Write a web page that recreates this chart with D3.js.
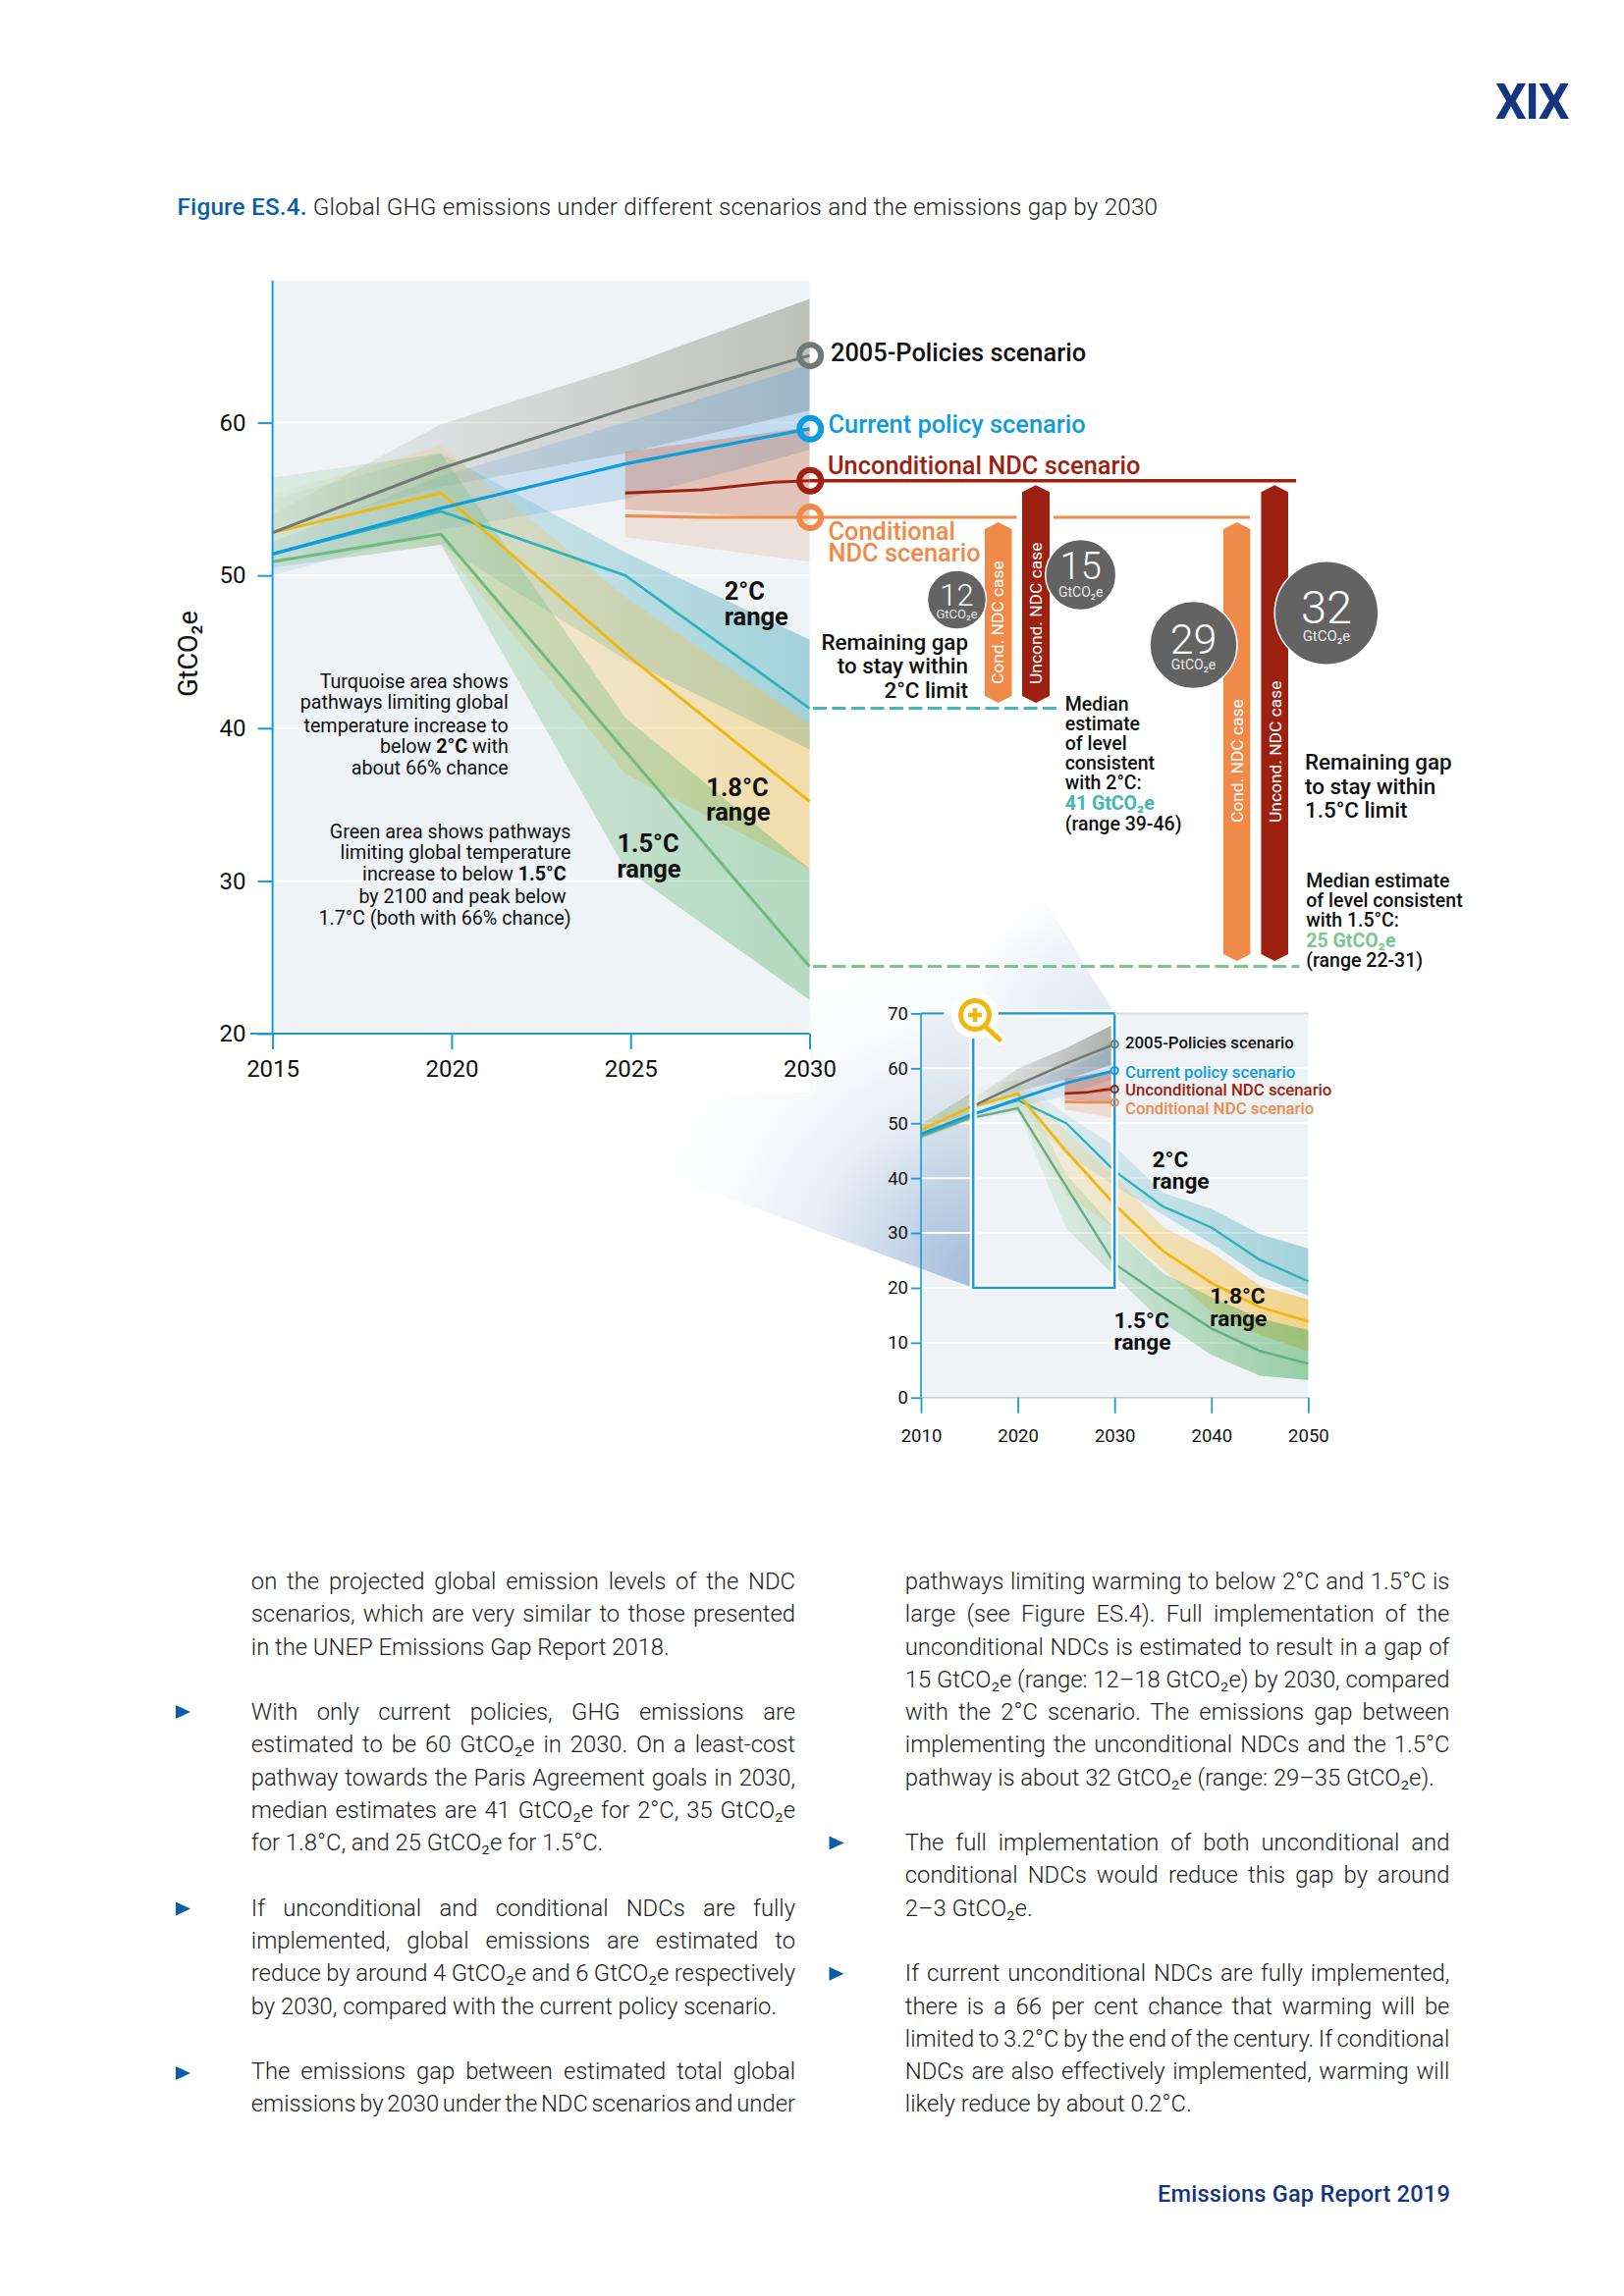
<!DOCTYPE html>
<html><head><meta charset="utf-8">
<script src="https://cdn.jsdelivr.net/npm/d3@7"></script>
<style>
html,body{margin:0;padding:0;background:#fff}
svg{display:block;position:absolute;left:0;top:0}
text{font-family:Roboto,"Noto Sans",sans-serif;fill:#111}
</style></head><body>
<svg id="c" width="1654" height="2339" xmlns="http://www.w3.org/2000/svg"></svg>
<script>
// ---------- data ----------
const yTicksMain=[20,30,40,50,60];
const xTicksMain=[2015,2020,2025,2030];
const yTicksInset=[0,10,20,30,40,50,60,70];
const xTicksInset=[2010,2020,2030,2040,2050];
const yearsMain=[2015,2019.7,2024.85,2030];
const yearsInset=[2015,2020,2025,2030];
const yearsLong=[2035,2040,2045,2050];
const yearsNdc=[2024.85,2030];
const yearsUncondLine=[2024.85,2027,2029,2030];
const yearsCondLine=[2024.85,2027,2030];
// medians
const line2005=[52.8,57.0,60.9,64.4];
const lineCurrent=[51.4,54.4,57.3,59.6];
const line2C=[51.4,54.2,50.0,41.3];
const line18C=[52.8,55.4,44.9,35.2];
const line15C=[50.9,52.7,38.5,24.4];
const lineUncond=[55.4,55.6,56.1,56.2];
const lineCond=[53.9,53.8,53.8];
// ranges
const up2005=[54.0,59.9,63.7,68.1], lo2005=[52.8,55.8,58.0,60.8];
const upCurrent=[52.2,56.5,60.0,63.8], loCurrent=[50.0,53.0,55.0,58.2];
const up2C=[55.0,58.0,51.5,45.8], lo2C=[50.5,52.0,44.5,38.6];
const up18C=[55.3,58.5,48.6,40.3], lo18C=[50.6,52.0,37.0,30.8];
const up15C=[56.4,58.0,40.7,30.8], lo15C=[50.5,52.0,30.8,22.2];
const upUncond=[58.1,59.7], loUncond=[54.3,53.7];
const upCond=[54.2,53.8], loCond=[52.5,50.9];
// inset extension 2035-2050
const long2C=[34.8,31.0,25.1,21.2], longUp2C=[37.3,34.4,29.8,27.2], longLo2C=[33.3,28.1,22.1,18.6];
const long18C=[26.7,20.9,16.5,13.9], longUp18C=[31.1,26.6,20.4,17.9], longLo18C=[23.4,15.6,11.4,8.4];
const long15C=[18.3,12.6,8.5,6.2], longUp15C=[22.7,18.3,14.4,12.3], longLo15C=[13.7,7.8,4.0,3.2];
// inset history 2010
const hist18C=48.8, histCurrent=48.0, hist15C=47.6, histUp=49.8, histLo=47.2;
// gap bars
const gap2C=[{k:"Cond. NDC case",top:53.8,col:"cond"},{k:"Uncond. NDC case",top:56.2,col:"unc"}];
const gap15C=[{k:"Cond. NDC case",top:53.8,col:"cond"},{k:"Uncond. NDC case",top:56.2,col:"unc"}];
const median2C=41.3, median15C=24.4;
const gapValues=["12","15","29","32"];
// text
const figTitleA="Figure ES.4.", figTitleB=" Global GHG emissions under different scenarios and the emissions gap by 2030";
const leftCol=[[0,"on the projected global emission levels of the NDC",1],[1,"scenarios, which are very similar to those presented",1],[2,"in the UNEP Emissions Gap Report 2018.",0],
[4,"With only current policies, GHG emissions are",1],[5,"estimated to be 60 GtCO₂e in 2030. On a least-cost",1],[6,"pathway towards the Paris Agreement goals in 2030,",1],[7,"median estimates are 41 GtCO₂e for 2°C, 35 GtCO₂e",1],[8,"for 1.8°C, and 25 GtCO₂e for 1.5°C.",0],
[10,"If unconditional and conditional NDCs are fully",1],[11,"implemented, global emissions are estimated to",1],[12,"reduce by around 4 GtCO₂e and 6 GtCO₂e respectively",1],[13,"by 2030, compared with the current policy scenario.",0],
[15,"The emissions gap between estimated total global",1],[16,"emissions by 2030 under the NDC scenarios and under",1]];
const rightCol=[[0,"pathways limiting warming to below 2°C and 1.5°C is",1],[1,"large (see Figure ES.4). Full implementation of the",1],[2,"unconditional NDCs is estimated to result in a gap of",1],[3,"15 GtCO₂e (range: 12–18 GtCO₂e) by 2030, compared",1],[4,"with the 2°C scenario. The emissions gap between",1],[5,"implementing the unconditional NDCs and the 1.5°C",1],[6,"pathway is about 32 GtCO₂e (range: 29–35 GtCO₂e).",0],
[8,"The full implementation of both unconditional and",1],[9,"conditional NDCs would reduce this gap by around",1],[10,"2–3 GtCO₂e.",0],
[12,"If current unconditional NDCs are fully implemented,",1],[13,"there is a 66 per cent chance that warming will be",1],[14,"limited to 3.2°C by the end of the century. If conditional",1],[15,"NDCs are also effectively implemented, warming will",1],[16,"likely reduce by about 0.2°C.",0]];

// ---------- palette ----------
const C={axis:"#1a9ad6",bg:"#eff3f6",grey:"#6f7a76",blue:"#0d9ddf",unc:"#9e2010",cond:"#ef8a49",teal:"#2fb3b8",yellow:"#efb810",green:"#6fbb7f",
 navy:"#14357f",fig:"#0a5ea8",disc:"#636363"};
const svg=d3.select("#c");
const defs=svg.append("defs");
function grad(id,color,x1,x2,a1,a2){
 const g=defs.append("linearGradient").attr("id",id).attr("gradientUnits","userSpaceOnUse").attr("x1",x1).attr("x2",x2).attr("y1",0).attr("y2",0);
 g.append("stop").attr("offset",0).attr("stop-color",color).attr("stop-opacity",a1);
 g.append("stop").attr("offset",1).attr("stop-color",color).attr("stop-opacity",a2);
}
// ---------- scales ----------
const xM=d3.scaleLinear().domain([2015,2030]).range([277.6,824.5]);
const yM=d3.scaleLinear().domain([20,60]).range([1053,430.6]);
const xI=d3.scaleLinear().domain([2010,2050]).range([938,1332.4]);
const yI=d3.scaleLinear().domain([0,70]).range([1423.8,1032.4]);

function band(g,xs,up,lo,x,y,fill){
 const a=d3.area().x((d,i)=>x(xs[i])).y0((d,i)=>y(lo[i])).y1((d,i)=>y(up[i]));
 g.append("path").attr("d",a(up)).attr("fill",fill);
}
function line(g,xs,v,x,y,col,w){
 const l=d3.line().x((d,i)=>x(xs[i])).y(d=>y(d));
 g.append("path").attr("d",l(v)).attr("fill","none").attr("stroke",col).attr("stroke-width",w).attr("stroke-linejoin","miter");
}
function txt(g,x,y,s,o={}){
 const t=g.append("text").attr("x",x).attr("y",y).attr("font-size",o.size||20).attr("font-weight",o.w||400).attr("text-anchor",o.a||"start").style("fill",o.c||"#111");
 if(o.ls!==undefined)t.attr("letter-spacing",o.ls);
 if(Array.isArray(s)){s.forEach(r=>{const ts=t.append("tspan").text(r.t);if(r.w)ts.attr("font-weight",r.w);if(r.c)ts.style("fill",r.c);});}
 else t.text(s);
 return t;
}
// ---------- page furniture ----------
txt(svg,1597,121,"XIX",{size:50,w:700,a:"end",c:C.navy,ls:-1.5});
txt(svg,180.5,219,[{t:figTitleA,w:500,c:C.fig},{t:figTitleB,w:300,c:"#222"}],{size:24.25,ls:0.2});
txt(svg,1477,2243,"Emissions Gap Report 2019",{size:23.6,w:500,a:"end",c:C.navy,ls:0.2});

function column(data,x0,x1){
 data.forEach(([n,s,j])=>{
  const t=txt(svg,x0,1619+33.27*n,s,{size:23.8,w:300,c:"#222"});
  if(j){const L=t.node().getComputedTextLength();const sp=s.split(" ").length-1;t.attr("word-spacing",(x1-x0-L)/sp);}
 });
}
column(leftCol,255.8,810);
column(rightCol,921.8,1476.4);
const bullets=[[179,1744],[179,1944.6],[179,2112],[844.5,1877.5],[844.5,2010.7]];
const tri=d3.line();
bullets.forEach(([x,y])=>svg.append("path").attr("d",tri([[x,y-7],[x+15,y],[x,y+7]])+"Z").attr("fill",C.fig));

// ---------- inset background + wedge ----------
const inset=svg.append("g");
inset.append("rect").attr("x",xI(2010)).attr("y",yI(70)).attr("width",xI(2050)-xI(2010)).attr("height",yI(0)-yI(70)).attr("fill",C.bg);
const rg=defs.append("radialGradient").attr("id","wedge").attr("gradientUnits","userSpaceOnUse").attr("cx",1000).attr("cy",1300).attr("r",360);
[[0,.8],[.25,.5],[.5,.2],[.75,.05],[1,0]].forEach(([o,a])=>rg.append("stop").attr("offset",o).attr("stop-color","#8fadd2").attr("stop-opacity",a));
const rg2=defs.append("radialGradient").attr("id","wedge2").attr("gradientUnits","userSpaceOnUse").attr("cx",1150).attr("cy",1050).attr("r",170);
[[0,.28],[.6,.14],[1,0]].forEach(([o,a])=>rg2.append("stop").attr("offset",o).attr("stop-color","#8fadd2").attr("stop-opacity",a));
const rectL=xI(2015.4),rectR=xI(2030),rectT=yI(70),rectB=yI(20);
const wedgePts=d3.line()([[rectL,rectB],[rectR,rectT],[700,330],[500,1132]])+"Z";
svg.append("path").attr("d",wedgePts).attr("fill","url(#wedge)");
svg.append("path").attr("d",wedgePts).attr("fill","url(#wedge2)");

// ---------- main chart ----------
const m=svg.append("g");
m.append("rect").attr("x",260).attr("y",1053).attr("width",565).attr("height",60).attr("fill","#fff");
m.append("rect").attr("x",xM(2015)).attr("y",285.8).attr("width",xM(2030)-xM(2015)).attr("height",1053-285.8).attr("fill",C.bg);
m.append("g").selectAll("line").data([30,40,50,60]).join("line").attr("x1",xM(2015)).attr("x2",xM(2030)).attr("y1",d=>yM(d)).attr("y2",d=>yM(d)).attr("stroke","#fff").attr("stroke-width",2);
const X0=xM(2015),X1=xM(2030);
grad("mGrey","#6e6e5c",X0,X1,.05,.38);
grad("mBlue","#5f9fdc",X0,X1,.14,.32);
grad("mTeal","#3aa5b5",X0,X1,.05,.42);
grad("mYel","#f5bf45",X0,X1,.07,.42);
grad("mGrn","#59b36c",X0,X1,.13,.4);
band(m,yearsMain,up2005,lo2005,xM,yM,"url(#mGrey)");
band(m,yearsMain,upCurrent,loCurrent,xM,yM,"url(#mBlue)");
band(m,yearsMain,up2C,lo2C,xM,yM,"url(#mTeal)");
band(m,yearsMain,up18C,lo18C,xM,yM,"url(#mYel)");
band(m,yearsMain,up15C,lo15C,xM,yM,"url(#mGrn)");
band(m,yearsNdc,upUncond,loUncond,xM,yM,"rgba(200,100,60,.33)");
band(m,yearsNdc,upCond,loCond,xM,yM,"rgba(225,150,110,.2)");
line(m,yearsMain,line15C,xM,yM,C.green,3);
line(m,yearsMain,line2C,xM,yM,C.teal,2.8);
line(m,yearsMain,line18C,xM,yM,C.yellow,3);
line(m,yearsMain,line2005,xM,yM,C.grey,3);
line(m,yearsMain,lineCurrent,xM,yM,C.blue,3.2);
line(m,yearsUncondLine,lineUncond,xM,yM,C.unc,3);
line(m,yearsCondLine,lineCond,xM,yM,C.cond,3);

// main axes
const ax=m.append("g").attr("transform",`translate(${xM(2015)},0)`).call(d3.axisLeft(yM).tickValues(yTicksMain).tickSize(15).tickPadding(12).tickFormat(d3.format("d")));
const ay=m.append("g").attr("transform","translate(0,1053)").call(d3.axisBottom(xM).tickValues(xTicksMain).tickSize(16).tickPadding(10.5).tickFormat(d3.format("d")));
[ax,ay].forEach(a=>{a.selectAll("path").attr("stroke",C.axis).attr("stroke-width",2);a.selectAll("line").attr("stroke",C.axis).attr("stroke-width",2);a.selectAll("text").style("font-family","Roboto").style("font-size","24px").style("fill","#111");});
ax.select("path").attr("d",`M0,285.8V1053`);
ay.select("path").attr("d",`M255,0H${xM(2030)}`);
txt(m,0,0,"GtCO₂e",{size:27,a:"middle"}).attr("transform","translate(201,666) rotate(-90)");

// main notes
[["Turquoise area shows",700.5],["pathways limiting global",722.4],["temperature increase to",745.5],[[{t:"below "},{t:"2°C",w:700},{t:" with"}],767.4],["about 66% chance",789.3]].forEach(([s,y])=>txt(m,517.8,y,s,{size:19.7,a:"end"}));
[["Green area shows pathways",853.5],["limiting global temperature",875.4],[[{t:"increase to below "},{t:"1.5°C",w:700},{t:"\u00a0"}],897.4],["by 2100 and peak below\u00a0",920.4],["1.7°C (both with 66% chance)",941.8]].forEach(([s,y])=>txt(m,581.5,y,s,{size:19.7,a:"end"}));
[[737.7,611,"2°C"],[737.7,637,"range"],[719.3,811,"1.8°C"],[719.3,836,"range"],[628.4,868,"1.5°C"],[628.4,893.5,"range"]].forEach(([x,y,s])=>txt(m,x,y,s,{size:25.5,w:700}));

// scenario connectors
m.append("line").attr("x1",X1).attr("x2",1320).attr("y1",yM(56.2)).attr("y2",yM(56.2)).attr("stroke",C.unc).attr("stroke-width",3.5);
[[X1,1035.5],[1073,1273]].forEach(([a,b])=>m.append("line").attr("x1",a).attr("x2",b).attr("y1",yM(53.8)).attr("y2",yM(53.8)).attr("stroke",C.cond).attr("stroke-width",3));
[[median2C,1078.7,"#3fb8b6"],[median15C,1323.4,"#7bc68e"]].forEach(([v,x2,c])=>m.append("line").attr("x1",828).attr("x2",x2).attr("y1",yM(v)).attr("y2",yM(v)).attr("stroke",c).attr("stroke-width",3).attr("stroke-dasharray","14 5.5"));
// markers
[[64.4,C.grey],[59.6,C.blue],[56.2,C.unc],[53.8,C.cond]].forEach(([v,c])=>m.append("circle").attr("cx",825.2).attr("cy",yM(v)).attr("r",11).attr("fill","none").attr("stroke",c).attr("stroke-width",6));
txt(m,846,368,"2005-Policies scenario",{size:25.4,w:500});
txt(m,843.5,440.5,"Current policy scenario",{size:25.4,w:500,c:C.blue});
txt(m,843,483,"Unconditional NDC scenario",{size:25.4,w:500,c:C.unc});
txt(m,843.5,550,"Conditional",{size:25.4,w:500,c:C.cond});
txt(m,843.5,572,"NDC scenario",{size:25.4,w:500,c:C.cond});

// gap bars
function bar(x0,x1,top,bottom,col,label,lx,ly){
 const c=7,mx=(x0+x1)/2;
 svg.append("path").attr("d",d3.line()([[mx,top],[x1,top+c],[x1,bottom-c],[mx,bottom],[x0,bottom-c],[x0,top+c]])+"Z").attr("fill",col);
 txt(svg,0,0,label,{size:17.4,c:"#fff"}).attr("transform",`translate(${lx},${ly}) rotate(-90)`);
}
const bb2=yM(median2C)-5.5, bb15=yM(median15C)-5.5;
bar(1003,1030.5,yM(gap2C[0].top)+5,bb2,C.cond,gap2C[0].k,1022,697);
bar(1041,1069,yM(gap2C[1].top)+4.5,bb2,C.unc,gap2C[1].k,1061,697);
bar(1246,1273.4,yM(gap15C[0].top)+5,bb15,C.cond,gap15C[0].k,1265.5,838);
bar(1284.4,1312,yM(gap15C[1].top)+4.5,bb15,C.unc,gap15C[1].k,1304.5,838);

// gap discs
[[974.5,611,30,31,617,13,630],[1100.7,585.6,36,38,590,14,608],[1215.5,657,44.5,43,666,14,681.6],[1351,624.5,52.8,47,634.7,15,652.6]].forEach((d,i)=>{
 svg.append("circle").attr("cx",d[0]).attr("cy",d[1]).attr("r",d[2]).attr("fill",C.disc).attr("stroke","#fff").attr("stroke-width",1.5);
 txt(svg,d[0],d[4],gapValues[i],{size:d[3],w:300,a:"middle",c:"#fff"});
 txt(svg,d[0],d[6],"GtCO₂e",{size:d[5],w:400,a:"middle",c:"#e8e8e8"});
});
// gap notes
[["Remaining gap",661.5],["to stay within",686],["2°C limit",710.6]].forEach(([s,y])=>txt(svg,986,y,s,{size:22.4,w:500,a:"end"}));
[["Remaining gap",784],["to stay within",809],["1.5°C limit",833.4]].forEach(([s,y])=>txt(svg,1329,y,s,{size:22.4,w:500}));
[["Median",724],["estimate",744],["of level",764],["consistent",784],["with 2°C:",804.4],[[{t:"41 GtCO₂e",w:700,c:"#3fb8b6"}],824.5],["(range 39-46)",846]].forEach(([s,y])=>txt(svg,1084.7,y,s,{size:19.5,w:500}));
[["Median estimate",904],["of level consistent",924],["with 1.5°C:",944],[[{t:"25 GtCO₂e",w:700,c:"#7bc68e"}],965],["(range 22-31)",985]].forEach(([s,y])=>txt(svg,1330.3,y,s,{size:19.5,w:500}));

// ---------- inset chart ----------
const ins=svg.append("g");
ins.append("rect").attr("x",rectL).attr("y",rectT).attr("width",rectR-rectL).attr("height",rectB-rectT).attr("fill",C.bg);
ins.append("g").selectAll("line").data([10,20,30,40,50,60]).join("line").attr("x1",xI(2010)).attr("x2",xI(2050)).attr("y1",d=>yI(d)).attr("y2",d=>yI(d)).attr("stroke","#fff").attr("stroke-width",2);
const iX0=xI(2015),iX1=xI(2030),iX2=xI(2050);
grad("iGrey","#55554a",iX0,iX1,.04,.42);
grad("iBlue","#5f9fdc",iX0,iX1,.06,.26);
grad("iTeal","#3aa5b5",iX0,iX2,.0,.42);
grad("iYel","#f5bf45",iX0,iX2,.0,.62);
grad("iGrn","#59b36c",iX0,iX2,.0,.58);
const longYears=[...yearsInset,...yearsLong];
band(ins,yearsInset,up2005,lo2005,xI,yI,"url(#iGrey)");
band(ins,yearsInset,upCurrent,loCurrent,xI,yI,"url(#iBlue)");
band(ins,longYears,[...up2C,...longUp2C],[...lo2C,...longLo2C],xI,yI,"url(#iTeal)");
band(ins,longYears,[...up18C,...longUp18C],[...lo18C,...longLo18C],xI,yI,"url(#iYel)");
band(ins,longYears,[...up15C,...longUp15C],[...lo15C,...longLo15C],xI,yI,"url(#iGrn)");
band(ins,[2010,2015],[histUp,up18C[0]],[histLo,lo15C[0]],xI,yI,"rgba(150,175,110,.4)");
band(ins,yearsNdc,upUncond,loUncond,xI,yI,"rgba(190,80,50,.42)");
band(ins,yearsNdc,upCond,loCond,xI,yI,"rgba(225,150,110,.25)");
line(ins,longYears,[...line15C,...long15C],xI,yI,"#63ae84",2.4);
line(ins,longYears,[...line2C,...long2C],xI,yI,C.teal,2.4);
line(ins,[2010,...longYears],[hist18C,...line18C,...long18C],xI,yI,C.yellow,2.8);
line(ins,yearsInset,line2005,xI,yI,C.grey,2.4);
line(ins,[2010,2015],[hist15C,line15C[0]],xI,yI,"#63ae84",2.4);
line(ins,[2010,...yearsInset],[histCurrent,...lineCurrent],xI,yI,C.blue,2.8);
line(ins,yearsUncondLine,lineUncond,xI,yI,C.unc,2.6);
line(ins,yearsCondLine,lineCond,xI,yI,C.cond,2.6);
// zoom frame
ins.append("rect").attr("x",rectL).attr("y",rectT).attr("width",rectR-rectL).attr("height",rectB-rectT).attr("fill","none").attr("stroke","#fff").attr("stroke-width",7);
ins.append("rect").attr("x",rectL).attr("y",rectT).attr("width",rectR-rectL).attr("height",rectB-rectT).attr("fill","none").attr("stroke",C.axis).attr("stroke-width",2.4);
// inset axes
const ix=ins.append("g").attr("transform",`translate(${xI(2010)},0)`).call(d3.axisLeft(yI).tickValues(yTicksInset).tickSize(10).tickPadding(3).tickFormat(d3.format("d")));
const iy=ins.append("g").attr("transform",`translate(0,${yI(0)})`).call(d3.axisBottom(xI).tickValues(xTicksInset).tickSize(16).tickPadding(16.5).tickFormat(d3.format("d")));
[ix,iy].forEach(a=>{a.selectAll("path").attr("stroke",C.axis).attr("stroke-width",1.6);a.selectAll("line").attr("stroke",C.axis).attr("stroke-width",1.8);a.selectAll("text").style("font-family","Roboto").style("font-size","18.5px").style("fill","#111");});
ix.select("path").attr("d",`M0,${yI(70)}V${yI(0)}`);
iy.select("path").attr("d",`M${xI(2010)},0H${xI(2050)}`).attr("stroke","#c6cbd0");
ins.append("line").attr("x1",rectR).attr("x2",xI(2050)).attr("y1",yI(70)).attr("y2",yI(70)).attr("stroke","#d6d9dc").attr("stroke-width",2);
ins.append("line").attr("x1",xI(2010)).attr("x2",rectL-30).attr("y1",yI(70)).attr("y2",yI(70)).attr("stroke",C.axis).attr("stroke-width",2);
[[64.4,C.grey],[59.6,C.blue],[56.2,C.unc],[53.8,C.cond]].forEach(([v,c])=>ins.append("circle").attr("cx",xI(2030)).attr("cy",yI(v)).attr("r",3.6).attr("fill","none").attr("stroke",c).attr("stroke-width",2));
txt(ins,1146,1068,"2005-Policies scenario",{size:16.8,w:500});
txt(ins,1146,1098.4,"Current policy scenario",{size:16.8,w:500,c:C.blue});
txt(ins,1146,1116,"Unconditional NDC scenario",{size:16.8,w:500,c:C.unc});
txt(ins,1146,1135,"Conditional NDC scenario",{size:16.8,w:500,c:C.cond});
[[1173.6,1189,"2°C"],[1173.6,1210.5,"range"],[1232.3,1328,"1.8°C"],[1232.3,1350.5,"range"],[1134.5,1353,"1.5°C"],[1134.5,1375.3,"range"]].forEach(([x,y,s])=>txt(ins,x,y,s,{size:22.7,w:700}));
// magnifier
const mag=svg.append("g").attr("transform","translate(993,1034)");
mag.append("circle").attr("r",24).attr("fill","#fff");
mag.append("line").attr("x1",12).attr("y1",13).attr("x2",25).attr("y2",25).attr("stroke","#fff").attr("stroke-width",12).attr("stroke-linecap","round");
mag.append("circle").attr("r",14.5).attr("fill","#fff").attr("stroke",C.yellow).attr("stroke-width",5);
mag.append("line").attr("x1",12).attr("y1",13).attr("x2",25).attr("y2",25).attr("stroke",C.yellow).attr("stroke-width",5).attr("stroke-linecap","round");
mag.append("path").attr("d","M-7,0H7M0,-7V7").attr("stroke",C.yellow).attr("stroke-width",4.5);
</script>
</body></html>
